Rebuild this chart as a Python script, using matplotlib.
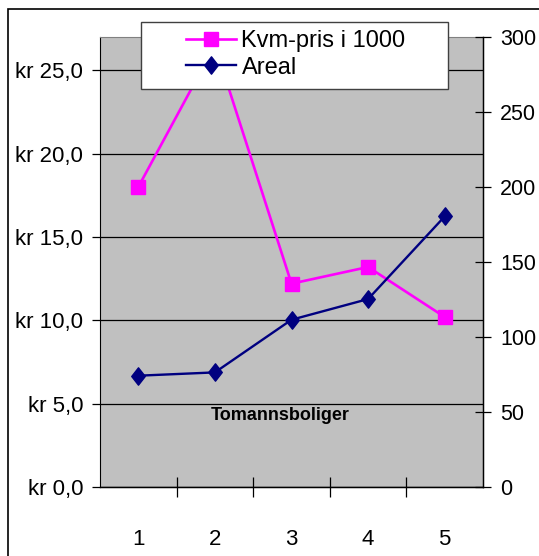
import matplotlib.pyplot as plt
from matplotlib.patches import Rectangle
from matplotlib.path import Path
from matplotlib.ticker import FuncFormatter, FixedLocator

categories = [1, 2, 3, 4, 5]
kvm_pris = [18.0, 26.5, 12.2, 13.2, 10.2]
areal = [74.2, 76.4, 111.5, 125.3, 180.4]
left_ticks = [0, 5, 10, 15, 20, 25]
right_ticks = [0, 50, 100, 150, 200, 250, 300]

plt.rcParams['font.family'] = ['Liberation Sans', 'DejaVu Sans']

diamond = Path([(0, 1), (0.78, 0), (0, -1), (-0.78, 0), (0, 1)],
               [Path.MOVETO, Path.LINETO, Path.LINETO, Path.LINETO, Path.CLOSEPOLY])

W, H = 539, 556
fig = plt.figure(figsize=(W / 100, H / 100), dpi=100)
ax = fig.add_axes([100 / W, 1 - 487 / H, 383 / W, 450 / H])
ax.set_facecolor('#C0C0C0')
ax2 = ax.twinx()

# outer chart frame
fig.add_artist(Rectangle((8 / W, -0.1), 1.2, 1 - 9 / H + 0.1,
                         transform=fig.transFigure, fill=False, lw=1.2, ec='black'))

ax.set_xlim(0.5, 5.5)
ax.set_ylim(0, 27)
ax2.set_ylim(0, 300)

l1, = ax.plot(categories, kvm_pris, color='#FF00FF', lw=1.9, marker='s',
              markersize=9.5, label='Kvm-pris i 1000', zorder=3)
l2, = ax2.plot(categories, areal, color='#000080', lw=1.7, marker=diamond,
               markersize=12.5, label='Areal', zorder=3)

ax.yaxis.set_major_locator(FixedLocator(left_ticks))
ax.yaxis.set_major_formatter(FuncFormatter(lambda v, p: 'kr ' + f'{v:.1f}'.replace('.', ',')))
ax.grid(axis='y', color='black', lw=0.9)
ax.set_axisbelow(True)
ax2.yaxis.set_major_locator(FixedLocator(right_ticks))

ax.xaxis.set_major_locator(FixedLocator(categories))
ax.xaxis.set_minor_locator(FixedLocator([1.5, 2.5, 3.5, 4.5]))
ax.tick_params(axis='x', which='major', length=0, pad=30, labelsize=16)
ax.tick_params(axis='x', which='minor', direction='inout', length=14, width=0.9)
ax.tick_params(axis='y', direction='out', length=6, width=0.9, pad=6, labelsize=16)
ax2.tick_params(axis='y', direction='inout', length=11, width=0.9, pad=7, labelsize=15.5)

for sp in ['left', 'top']:
    ax.spines[sp].set_color('#808080')
    ax2.spines[sp].set_visible(False)
ax.spines['left'].set_color('black')
ax2.spines['right'].set_linewidth(1.0)
ax.spines['bottom'].set_linewidth(1.0)

ax.text(0.47, 0.16, 'Tomannsboliger', transform=ax.transAxes, ha='center', va='center',
        fontsize=13, fontweight='bold')

# legend box drawn separately so it can be wider than its contents
fig.add_artist(Rectangle((141 / W, 1 - 89 / H), 307 / W, 67 / H, transform=fig.transFigure,
                         facecolor='white', edgecolor='#404040', lw=1.0, zorder=5))
leg = fig.legend(handles=[l1, l2], loc='upper left', bbox_to_anchor=(186 / W, 1 - 30 / H),
                 fontsize=17, frameon=False, handlelength=2.1, handletextpad=0.25,
                 labelspacing=0.2, borderpad=0, borderaxespad=0)
leg.set_zorder(6)

fig.savefig('out.png', dpi=100)
